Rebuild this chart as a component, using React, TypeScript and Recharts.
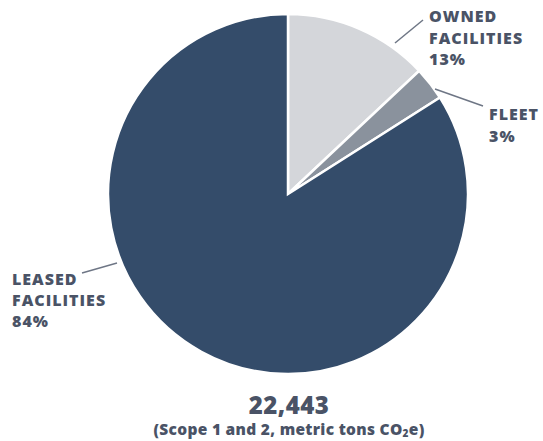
import React from "react";
import { PieChart, Pie, Cell } from "recharts";

const categories = ["OWNED FACILITIES", "FLEET", "LEASED FACILITIES"];
const shares = [13, 3, 84];
const labelLines = [["OWNED", "FACILITIES", "13%"], ["FLEET", "3%"], ["LEASED", "FACILITIES", "84%"]];
const totalLabel = "22,443";

const colors = ["#D4D6DA", "#8A929D", "#344C6A"];
const TEXT = "#4A5366";
const FONT = "'Open Sans', sans-serif";

const data = categories.map((name, i) => ({ name, value: shares[i] }));

// label layout relative to pie center: leader start, leader end, text x, first line y, line gap
const layout = [
  { sx: 107, sy: -151, ex: 135, ey: -174, tx: 141, ty: -178, gap: 21.5 },
  { sx: 147, sy: -105, ex: 195, ey: -88, tx: 201, ty: -80, gap: 22 },
  { sx: -206, sy: 79, ex: -171, ey: 69, tx: -276, ty: 85, gap: 21 },
];

const renderLabel = (props: any) => {
  const { cx, cy, index } = props;
  const l = layout[index];
  const lines = labelLines[index];
  return (
    <g key={"lab" + index}>
      <line x1={cx + l.sx} y1={cy + l.sy} x2={cx + l.ex} y2={cy + l.ey} stroke="#6E7685" strokeWidth={1.5} />
      <text
        x={cx + l.tx}
        y={cy + l.ty}
        fill={TEXT}
        fontFamily={FONT}
        fontWeight={800}
        fontSize={16}
        letterSpacing={1}
        dominantBaseline="central"
      >
        {lines.map((s, j) => (
          <tspan key={j} x={cx + l.tx} y={cy + l.ty + j * l.gap}>
            {s}
          </tspan>
        ))}
      </text>
    </g>
  );
};

export default function App() {
  return (
    <div style={{ position: "absolute", left: 0, top: 0, width: 543, height: 441, background: "#fff" }}>
      <PieChart width={543} height={441} margin={{ top: 0, right: 0, bottom: 0, left: 0 }}>
        <Pie
          data={data}
          dataKey="value"
          nameKey="name"
          cx={288}
          cy={194}
          outerRadius={180}
          startAngle={90}
          endAngle={-270}
          stroke="#ffffff"
          strokeWidth={2.5}
          isAnimationActive={false}
          label={renderLabel}
          labelLine={false}
        >
          {data.map((d, i) => (
            <Cell key={d.name} fill={colors[i]} />
          ))}
        </Pie>
      </PieChart>
      <div
        style={{
          position: "absolute",
          left: 0,
          width: 578,
          top: 391,
          textAlign: "center",
          fontFamily: FONT,
          fontWeight: 800,
          color: TEXT,
        }}
      >
        <div style={{ fontSize: 24, lineHeight: "28px", letterSpacing: 0.5 }}>{totalLabel}</div>
        <div style={{ fontSize: 15.5, lineHeight: "20px", letterSpacing: 0.3 }}>
          (Scope 1 and 2, metric tons CO<sub style={{ fontSize: 10, verticalAlign: "-2px", lineHeight: 0 }}>2</sub>e)
        </div>
      </div>
    </div>
  );
}
